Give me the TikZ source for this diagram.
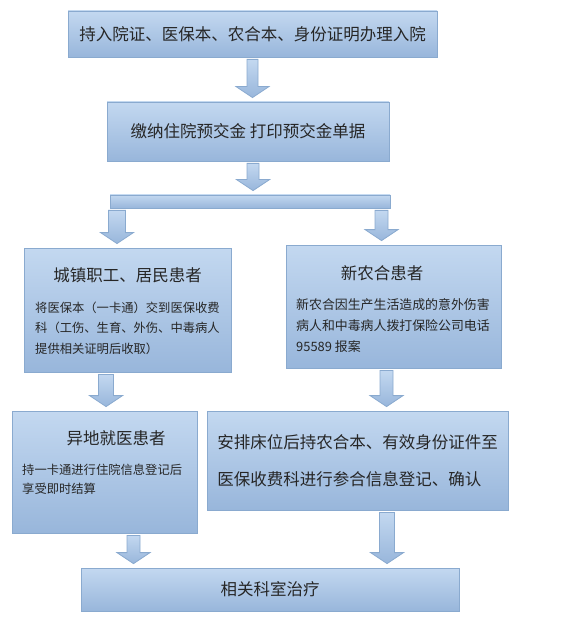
\documentclass[tikz,border=0pt]{standalone}
\usepackage{fontspec}
\setmainfont{Noto Sans CJK SC}
\usetikzlibrary{calc}
\definecolor{clrTop}{HTML}{C3D8F0}
\definecolor{clrBot}{HTML}{98B6DB}
\definecolor{clrEdge}{HTML}{8AAACF}

% block arrow: x, shaft half width, from node, to node
\newcommand{\blockarrow}[4]{%
  \path[barrow] let \p1=(#3.south), \p2=(#4.north) in
    (#1pt-#2pt,\y1-2pt) -- (#1pt+#2pt,\y1-2pt) -- (#1pt+#2pt,\y2+15pt)
    -- (#1pt+16.5pt,\y2+15pt) -- (#1pt,\y2+4pt) -- (#1pt-16.5pt,\y2+15pt)
    -- (#1pt-#2pt,\y2+15pt) -- cycle;}

\begin{document}
\begin{tikzpicture}[x=1pt, y=1pt,
    stepbox/.style={rectangle, draw=clrEdge, top color=clrTop, bottom color=clrBot, line width=0.8pt, inner sep=0pt},
    bigtxt/.style={font=\fontsize{16.5}{20}\selectfont, text=black!85},
    smalltxt/.style={font=\fontsize{12.3}{20.5}\selectfont, align=left, anchor=north west, inner sep=0pt, text=black!85},
    barrow/.style={draw=clrEdge, top color=clrTop, bottom color=clrBot, line width=0.8pt},
]
\useasboundingbox (0,0) rectangle (578,-620);

% Top: admission steps
\node[stepbox, bigtxt, minimum width=369pt, minimum height=46pt] (admit) at (252.5,-34) {持入院证、医保本、农合本、身份证明办理入院};
\node[stepbox, bigtxt, minimum width=282pt, minimum height=59pt] (deposit) at (248,-131.5) {缴纳住院预交金\ 打印预交金单据};
\node[stepbox, minimum width=280pt, minimum height=13pt] (split) at (250,-201.5) {};

% Left branch
\node[stepbox, minimum width=207pt, minimum height=124pt] (urban) at (127.5,-310) {};
\node[bigtxt] (urbantitle) at (127.5,-275) {城镇职工、居民患者};
\node[smalltxt] (urbannote) at (35,-301.5) {将医保本（一卡通）交到医保收费\\科（工伤、生育、外伤、中毒病人\\提供相关证明后收取）};

\node[stepbox, minimum width=185pt, minimum height=122pt] (remote) at (104.5,-472) {};
\node[bigtxt] (remotetitle) at (116,-438) {异地就医患者};
\node[smalltxt, font=\fontsize{12.3}{19}\selectfont] (remotenote) at (22,-463.5) {持一卡通进行住院信息登记后\\享受即时结算};

% Right branch
\node[stepbox, minimum width=215pt, minimum height=123pt] (rural) at (393.5,-306.5) {};
\node[bigtxt] (ruraltitle) at (382,-273) {新农合患者};
\node[smalltxt, font=\fontsize{12.9}{21}\selectfont] (ruralnote) at (296,-298.5) {新农合因生产生活造成的意外伤害\\病人和中毒病人拨打保险公司电话\\95589 报案};

\node[stepbox, bigtxt, font=\fontsize{16.5}{37}\selectfont, align=left, minimum width=301pt, minimum height=99pt] (register) at (357.5,-460.5) {安排床位后持农合本、有效身份证件至\\医保收费科进行参合信息登记、确认};

% Outcome
\node[stepbox, bigtxt, minimum width=378pt, minimum height=43pt] (treat) at (270,-589.5) {相关科室治疗};

% Arrows
\blockarrow{252.5}{5.5}{admit}{deposit}
\blockarrow{253}{6}{deposit}{split}
\blockarrow{117}{8.5}{split}{urban}
\blockarrow{381.5}{6.5}{split}{rural}
\blockarrow{106}{7.5}{urban}{remote}
\blockarrow{386.5}{6.5}{rural}{register}
\blockarrow{133.5}{6.5}{remote}{treat}
\blockarrow{387}{7.5}{register}{treat}

\end{tikzpicture}
\end{document}
